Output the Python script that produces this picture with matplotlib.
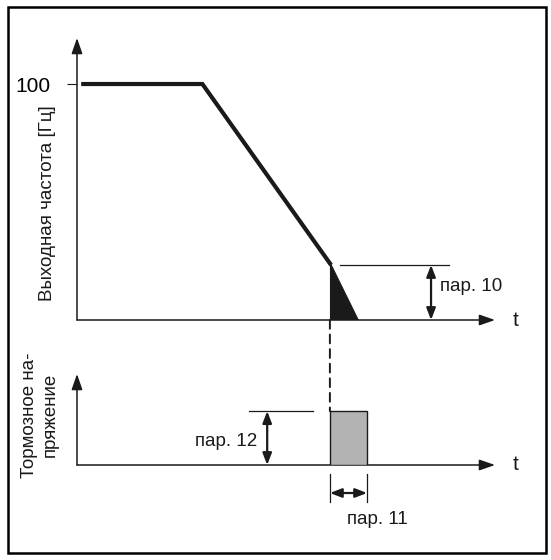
import numpy as np
import matplotlib
matplotlib.use("Agg")
import matplotlib.pyplot as plt
from matplotlib.patches import Rectangle, ConnectionPatch

plt.rcParams['font.family'] = ['Liberation Sans', 'DejaVu Sans']

# данные схемы
t_freq = [0.15, 3.0, 6.05]          # выходная частота: пуск, начало торможения, включение DC
f_freq = [100, 100, 24]
t_brake = [6.05, 6.05, 6.72]        # зона торможения постоянным током
f_brake = [24, 0, 0]
pulse_t0, pulse_t1 = 6.05, 6.94     # импульс тормозного напряжения
pulse_v = 1.0
par10_t, par10_f = [6.3, 8.9], 23.3
par12_t, par12_v = [4.11, 5.65], 1.0
t_max, f_max, v_max = 10.0, 119.5, 1.69

ink = "#1a1a1a"
W, H = 551, 560
fig = plt.figure(figsize=(W / 100, H / 100), dpi=100)

# рамка
fig.patches.append(Rectangle((8 / W, 1 - 553 / H), 538 / W, 546 / H, transform=fig.transFigure,
                             fill=False, lw=1.8, ec="black"))

# ---------------- верхний график ----------------
ax1 = fig.add_axes([77 / W, 1 - 320 / H, 418 / W, 282 / H])
ax1.set_xlim(0, t_max)
ax1.set_ylim(0, f_max)
for s in ax1.spines.values():
    s.set_visible(False)
ax1.set_xticks([])
ax1.set_yticks([100], labels=["100"], fontsize=15)
ax1.tick_params(axis="y", length=7, width=0.8, pad=12, color=ink)
ax1.patch.set_alpha(0)

arrow = dict(arrowstyle="-|>,head_length=0.95,head_width=0.33", lw=1.1, color=ink, shrinkA=0, shrinkB=0)
ax1.annotate("", xy=(0, f_max), xytext=(0, 0), arrowprops=arrow, annotation_clip=False)
ax1.annotate("", xy=(t_max, 0), xytext=(0, 0), arrowprops=arrow, annotation_clip=False)
ax1.text(10.48, 0, "t", fontsize=15, ha="center", va="center", color=ink, clip_on=False)

ax1.plot(t_freq, f_freq, color=ink, lw=3, solid_joinstyle="miter", clip_on=False)
ax1.fill(t_brake, f_brake, color=ink, lw=0.8, ec=ink)

ax1.plot(par10_t, [par10_f, par10_f], color=ink, lw=0.9)
dbl = dict(arrowstyle="<|-|>,head_length=0.7,head_width=0.27", lw=1.6, color=ink, shrinkA=0, shrinkB=0)
ax1.annotate("", xy=(8.47, par10_f), xytext=(8.47, 0), arrowprops=dbl)
ax1.text(8.68, 14, "пар. 10", fontsize=13.5, ha="left", va="center", color=ink)

ax1.text(-29 / 418, 0.415, "Выходная частота [Гц]", transform=ax1.transAxes, fontsize=13.5,
         rotation=90, ha="center", va="center", color=ink)

# ---------------- нижний график ----------------
ax2 = fig.add_axes([77 / W, 1 - 465 / H, 418 / W, 91 / H])
ax2.set_xlim(0, t_max)
ax2.set_ylim(0, v_max)
ax2.axis("off")

ax2.annotate("", xy=(0, v_max), xytext=(0, 0), arrowprops=arrow, annotation_clip=False)
ax2.annotate("", xy=(t_max, 0), xytext=(0, 0), arrowprops=arrow, annotation_clip=False)
ax2.text(10.48, 0, "t", fontsize=15, ha="center", va="center", color=ink, clip_on=False)

ax2.bar([pulse_t0], [pulse_v], width=pulse_t1 - pulse_t0, align="edge",
        color="#b3b3b3", edgecolor=ink, lw=1.0, zorder=3)

ax2.plot(par12_t, [par12_v, par12_v], color=ink, lw=0.9)
ax2.annotate("", xy=(4.55, par12_v), xytext=(4.55, 0), arrowprops=dbl)
ax2.text(4.31, 0.43, "пар. 12", fontsize=13.5, ha="right", va="center", color=ink)

# пар. 11
for tt in (pulse_t0, pulse_t1):
    ax2.plot([tt, tt], [-0.17, -0.69], color=ink, lw=0.9, clip_on=False)
ax2.annotate("", xy=(pulse_t1, -0.52), xytext=(pulse_t0, -0.52), arrowprops=dbl, annotation_clip=False)
ax2.text(7.18, -1.02, "пар. 11", fontsize=13.5, ha="center", va="center", color=ink, clip_on=False)

ax2.text(-37 / 418, 0.55, "Тормозное на-\nпряжение", transform=ax2.transAxes, fontsize=13.5,
         rotation=90, ha="center", va="center", multialignment="center", color=ink,
         linespacing=1.3)

# пунктир между графиками
con = ConnectionPatch(xyA=(pulse_t0, 0), coordsA=ax1.transData,
                      xyB=(pulse_t0, pulse_v), coordsB=ax2.transData,
                      color=ink, lw=1.4, linestyle=(0, (4.5, 3)))
fig.add_artist(con)

fig.savefig("out.png", dpi=100)
